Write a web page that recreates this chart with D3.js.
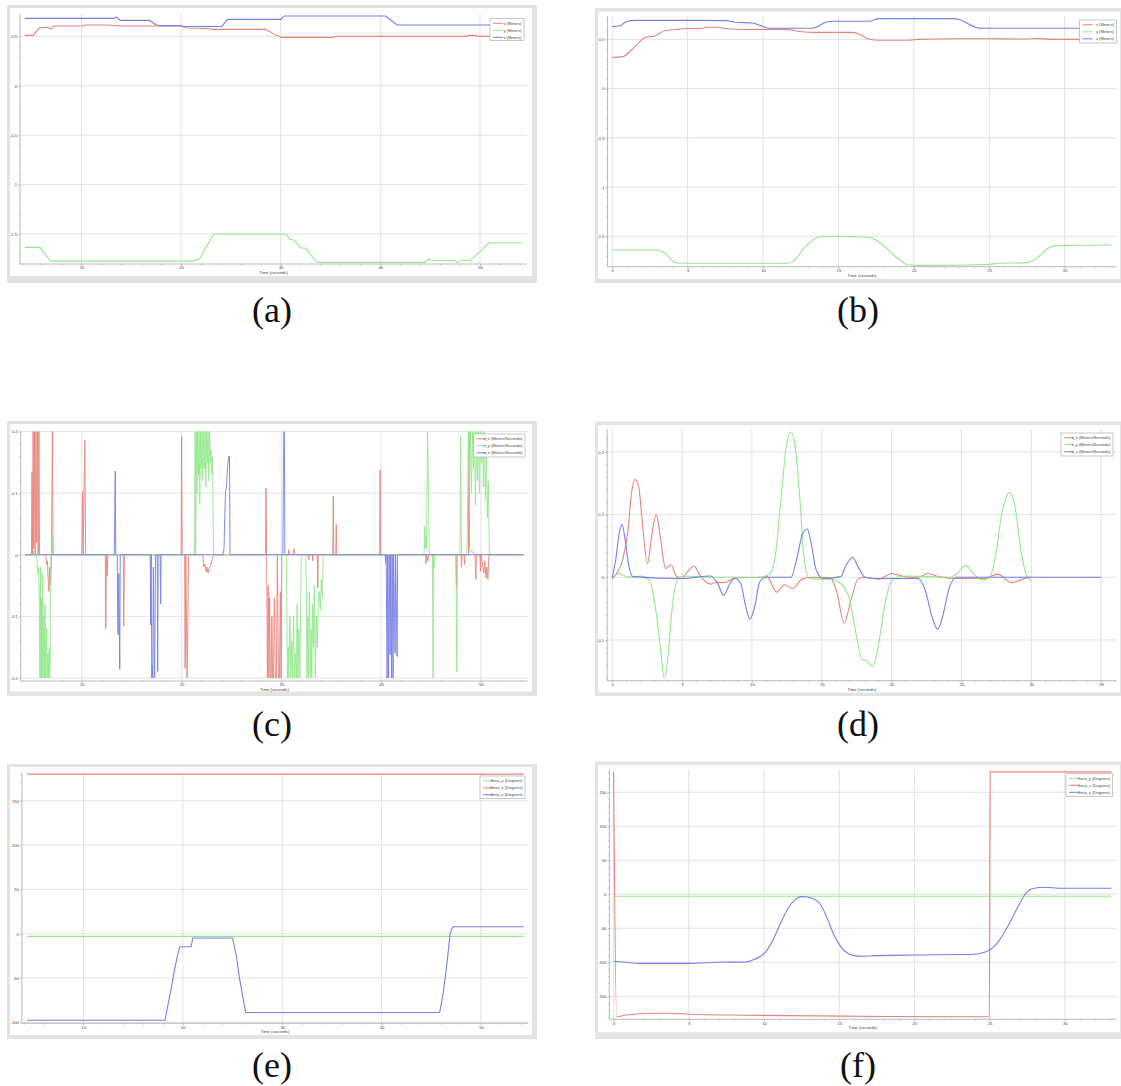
<!DOCTYPE html>
<html>
<head>
<meta charset="utf-8">
<script src="https://cdn.jsdelivr.net/npm/d3@7"></script>
<style>
  body { margin: 0; background: #fff; }
  svg { display: block; }
</style>
</head>
<body>
<svg id="fig" width="1121" height="1086"></svg>
<script>
// ---------------- (a) position, recorded run ----------------
const posA_x = [[4.3,0.51],[5.16,0.51],[5.8,0.59],[6.55,0.59],[6.97,0.575],[7.18,0.605],[10.2,0.605],[10.4,0.615],[12.5,0.615],[14.2,0.605],[19.95,0.605],[20.6,0.585],[22.7,0.58],[23.1,0.57],[28.5,0.57],[29.2,0.53],[30.0,0.49],[35.3,0.49],[35.6,0.5],[48.7,0.5],[48.8,0.51],[49.5,0.51],[49.9,0.5],[54.2,0.5]];
const posA_y = [[4.3,-1.635],[5.86,-1.635],[6.9,-1.774],[21.2,-1.774],[21.9,-1.747],[23.26,-1.5],[30.57,-1.5],[30.9,-1.554],[31.3,-1.56],[32.0,-1.64],[32.5,-1.643],[33.0,-1.71],[33.7,-1.787],[44.5,-1.787],[44.8,-1.753],[45.2,-1.767],[47.45,-1.767],[47.7,-1.79],[48.0,-1.767],[49.0,-1.767],[49.4,-1.733],[50.0,-1.68],[50.9,-1.588],[54.2,-1.588]];
const posA_z = [[4.3,0.682],[13.3,0.682],[13.5,0.696],[13.9,0.662],[16.8,0.662],[17.5,0.615],[17.9,0.608],[20.0,0.608],[20.3,0.6],[24.1,0.6],[24.65,0.672],[30.05,0.672],[30.3,0.706],[40.5,0.706],[41.7,0.615],[54.2,0.615]];

// ---------------- (b) position, planned trajectory ----------------
const posB_x = [[0,0.317],[0.7,0.324],[1.28,0.39],[2.0,0.5],[2.2,0.52],[2.8,0.534],[3.5,0.588],[4.2,0.6],[4.9,0.61],[5.8,0.61],[6.3,0.622],[7.0,0.622],[7.5,0.61],[8.86,0.6],[11.65,0.6],[12.1,0.588],[13.3,0.571],[15.85,0.571],[16.3,0.56],[17.0,0.503],[17.7,0.49],[19.6,0.49],[20.3,0.5],[22.8,0.506],[24.9,0.506],[27.3,0.503],[28.2,0.51],[29.1,0.5],[33.1,0.5]];
const posB_y = [[0,-1.639],[3.03,-1.639],[3.5,-1.673],[4.2,-1.767],[4.66,-1.774],[11.65,-1.774],[12.1,-1.74],[12.8,-1.605],[13.5,-1.52],[14.0,-1.5],[14.9,-1.5],[17.0,-1.51],[17.45,-1.535],[18.9,-1.72],[19.6,-1.79],[20.3,-1.797],[24.9,-1.787],[25.6,-1.774],[27.3,-1.77],[28.0,-1.74],[28.9,-1.622],[29.4,-1.595],[33.1,-1.588]];
const posB_z = [[0,0.629],[0.47,0.635],[0.93,0.679],[1.5,0.693],[4.2,0.693],[7.5,0.69],[8.2,0.673],[9.3,0.666],[9.8,0.642],[10.4,0.612],[13.3,0.612],[14.2,0.676],[14.6,0.683],[17.0,0.683],[17.7,0.71],[22.6,0.71],[23.1,0.696],[24.0,0.629],[24.4,0.612],[33.1,0.612]];

// ---------------- (c) velocity, recorded run ----------------
const velC_x = [[4.3,0],[4.95,0],[5.0,0.135],[5.05,0],[5.12,0.2],[5.18,0.01],[5.25,0.2],[5.32,0],[5.4,0.2],[5.47,0.02],[5.55,0.2],[5.62,0],[5.7,0.2],[5.76,0],[6.4,0],[6.48,-0.016],[6.55,-0.01],[6.62,-0.04],[6.7,-0.06],[6.78,-0.02],[6.86,-0.05],[6.95,0],[7.05,0.2],[7.12,0],[10.0,0],[10.07,0.103],[10.13,0],[10.3,0.186],[10.38,0],[12.35,0],[12.4,-0.12],[12.47,0],[12.55,-0.035],[12.6,0],[14.15,0],[14.2,-0.116],[14.27,0],[19.95,0],[20.0,0.193],[20.06,0],[20.3,0],[20.35,-0.184],[20.42,0],[20.55,-0.2],[20.62,-0.124],[20.7,0],[22.15,0],[22.2,-0.02],[22.35,-0.015],[22.45,-0.028],[22.55,-0.02],[22.65,-0.03],[22.75,-0.022],[22.9,-0.018],[23.05,-0.008],[23.2,0],[28.4,0],[28.46,0.108],[28.52,0],[28.6,-0.2],[28.68,-0.05],[28.75,-0.2],[28.82,-0.07],[28.9,-0.2],[28.98,-0.2],[29.05,-0.1],[29.12,-0.2],[29.2,-0.2],[29.3,-0.07],[29.4,-0.2],[29.5,-0.2],[29.6,0],[29.7,-0.2],[29.8,-0.2],[29.9,-0.06],[29.97,-0.2],[30.05,0],[30.7,0],[30.75,0.008],[30.8,0],[31.2,0],[31.25,0.01],[31.35,0.004],[31.4,0],[32.7,0],[32.75,-0.008],[32.8,0],[33.1,0],[33.15,-0.01],[33.2,0],[33.6,0],[33.65,-0.054],[33.7,0],[35.15,0],[35.2,0.095],[35.25,0],[35.45,0],[35.5,0.049],[35.55,0],[39.85,0],[39.9,0.138],[39.95,0],[44.45,0],[44.5,-0.014],[44.55,0],[44.7,-0.01],[44.75,0],[47.5,0],[47.55,-0.054],[47.6,0],[48.0,0],[48.05,-0.02],[48.1,0],[48.3,0],[48.35,-0.016],[48.4,0],[48.75,0],[48.8,0.2],[48.85,0.01],[49.4,0],[49.5,-0.04],[49.55,0],[49.9,0],[49.95,-0.027],[50.0,0],[50.3,-0.03],[50.4,-0.01],[50.5,-0.038],[50.6,-0.02],[50.7,-0.04],[50.8,0],[54.25,0]];
const velC_y = [[4.3,0],[5.1,0],[5.13,0.006],[5.2,0],[5.4,0],[5.5,-0.005],[5.55,-0.03],[5.65,-0.02],[5.72,-0.055],[5.8,-0.2],[5.85,-0.02],[5.9,-0.2],[5.95,-0.07],[6.0,-0.2],[6.05,-0.03],[6.1,-0.2],[6.18,-0.1],[6.25,-0.2],[6.3,-0.08],[6.38,-0.2],[6.45,-0.12],[6.52,-0.2],[6.6,-0.16],[6.65,-0.2],[6.72,-0.15],[6.78,-0.2],[6.85,-0.16],[6.9,0],[7.0,0],[7.05,0.03],[7.1,0],[21.3,0],[21.35,0.2],[21.4,0],[21.5,0.2],[21.55,0.1],[21.6,0.2],[21.7,0.13],[21.75,0.2],[21.82,0.084],[21.9,0.2],[21.97,0.14],[22.05,0.2],[22.12,0.12],[22.2,0.2],[22.28,0.14],[22.35,0.2],[22.42,0.11],[22.5,0.2],[22.58,0.15],[22.65,0.2],[22.72,0.12],[22.8,0.2],[22.88,0.15],[22.95,0.17],[23.0,0.13],[23.1,0.16],[23.2,0],[30.5,0],[30.55,-0.085],[30.6,-0.2],[30.68,-0.15],[30.75,-0.2],[30.85,-0.1],[30.95,-0.2],[31.05,-0.14],[31.12,-0.2],[31.22,-0.1],[31.3,-0.2],[31.4,-0.16],[31.5,-0.2],[31.58,-0.08],[31.65,-0.2],[31.75,-0.12],[31.85,-0.2],[31.95,-0.06],[32.0,0],[32.45,0],[32.5,-0.05],[32.57,-0.2],[32.65,-0.1],[32.72,-0.2],[32.8,-0.06],[32.9,-0.2],[32.98,-0.12],[33.05,-0.2],[33.12,-0.08],[33.22,-0.15],[33.3,-0.05],[33.4,-0.2],[33.5,-0.1],[33.6,-0.15],[33.7,-0.07],[33.8,-0.06],[33.9,-0.09],[34.0,-0.04],[34.1,-0.07],[34.2,0],[44.3,0],[44.35,0.046],[44.42,0.01],[44.5,0.032],[44.55,0.01],[44.65,0.2],[44.72,0.14],[44.8,0.02],[44.85,0],[45.15,0],[45.2,-0.2],[45.25,0],[45.3,-0.022],[45.35,0],[47.5,0],[47.58,-0.19],[47.65,0],[47.9,0],[47.97,0.193],[48.05,0],[48.6,0],[48.65,0.05],[48.75,0.2],[48.85,0.12],[48.95,0.2],[49.05,0.1],[49.15,0.2],[49.25,0.14],[49.35,0.2],[49.45,0.08],[49.55,0.2],[49.65,0.12],[49.75,0.2],[49.85,0.1],[49.95,0.2],[50.05,0.15],[50.15,0.2],[50.25,0.11],[50.35,0.2],[50.45,0.09],[50.55,0.17],[50.65,0.06],[50.75,0.12],[50.85,0],[54.25,0]];
const velC_z = [[4.3,0],[13.25,0],[13.3,0.07],[13.35,0.136],[13.4,0],[13.55,0],[13.6,-0.122],[13.65,-0.13],[13.7,-0.03],[13.8,-0.186],[13.85,0],[16.85,0],[16.9,-0.114],[16.95,0],[17.0,-0.2],[17.05,-0.18],[17.1,-0.2],[17.17,-0.02],[17.25,-0.178],[17.3,-0.2],[17.38,0],[17.55,0],[17.6,-0.19],[17.65,0],[17.85,0],[17.9,-0.08],[17.95,0],[24.15,0],[24.25,0.01],[24.32,0.06],[24.4,0.103],[24.5,0.11],[24.6,0.14],[24.72,0.16],[24.8,0.16],[24.85,0],[30.15,0],[30.2,0.12],[30.25,0.2],[30.3,0.2],[30.35,0],[40.4,0],[40.45,-0.013],[40.5,0],[40.6,-0.2],[40.65,0],[40.75,-0.2],[40.8,0],[40.9,-0.162],[40.95,0],[41.05,-0.2],[41.1,0],[41.2,-0.2],[41.25,0],[41.4,-0.16],[41.45,0],[41.6,-0.165],[41.65,0],[54.25,0]];

// ---------------- (d) velocity, planned trajectory ----------------
const velD_x = [[0,-0.003],[0.25,0.004],[0.75,0.028],[1.13,0.075],[1.38,0.134],[1.64,0.156],[1.9,0.144],[2.14,0.091],[2.52,0.022],[2.82,0.065],[3.15,0.1],[3.47,0.06],[3.82,0.014],[4.2,0.02],[4.58,0.002],[4.98,-0.002],[5.4,0.009],[5.84,0.018],[6.34,0.001],[7.05,-0.011],[7.42,-0.008],[8.05,-0.0085],[8.8,-0.001],[10.57,0],[11.07,0.001],[11.78,-0.024],[12.33,-0.012],[12.9,-0.018],[13.6,-0.003],[14.34,0],[15.6,-0.001],[16.1,-0.025],[16.6,-0.073],[17.1,-0.036],[17.6,-0.003],[18.1,0],[19.1,-0.003],[20.0,0.006],[20.9,0.001],[21.9,0],[22.6,0.006],[23.4,0.001],[24.66,-0.002],[26.7,-0.002],[27.6,0.005],[28.6,-0.0085],[29.7,-0.001],[30.0,0]];
const velD_y = [[0,0],[0.5,0.006],[1.0,0.001],[1.5,0],[2.0,0.002],[2.64,-0.004],[3.15,-0.057],[3.5,-0.122],[3.72,-0.161],[3.97,-0.132],[4.28,-0.052],[4.65,-0.004],[5.03,0.002],[6.04,0.001],[7.05,0],[10.57,0],[11.3,0.006],[11.7,0.038],[12.08,0.123],[12.46,0.208],[12.78,0.232],[13.1,0.208],[13.46,0.118],[13.7,0.038],[14.1,-0.002],[14.6,-0.003],[15.6,-0.003],[16.36,-0.01],[17.0,-0.036],[17.5,-0.095],[17.87,-0.131],[18.2,-0.133],[18.4,-0.138],[18.67,-0.142],[19.0,-0.116],[19.5,-0.047],[19.9,-0.01],[20.4,0],[21.1,0.002],[24.2,0],[24.7,0.006],[25.3,0.019],[25.9,0.005],[26.5,-0.005],[27.05,0.001],[27.4,0.028],[27.9,0.102],[28.43,0.135],[28.8,0.117],[29.3,0.038],[29.7,0.001],[30.07,-0.006]];
const velD_z = [[0,0],[0.25,0.028],[0.5,0.07],[0.7,0.084],[0.93,0.059],[1.2,0.017],[1.5,0.001],[5.03,-0.002],[7.05,0.002],[7.55,-0.01],[7.98,-0.029],[8.43,-0.01],[8.8,-0.002],[9.2,-0.01],[9.56,-0.047],[9.86,-0.067],[10.2,-0.047],[10.57,-0.007],[11.07,0],[12.8,0],[13.2,0.028],[13.64,0.07],[13.97,0.077],[14.2,0.059],[14.6,0.012],[15.1,-0.002],[16.36,0.001],[16.7,0.017],[17.2,0.032],[17.6,0.017],[18.1,0],[18.9,-0.002],[21.9,-0.002],[22.4,-0.02],[22.9,-0.063],[23.3,-0.083],[23.65,-0.063],[24.16,-0.015],[24.66,0],[35.0,0]];

// ---------------- (e) orientation, recorded run ----------------
const angE_y = [[4.33,-3],[54.3,-3]];
const angE_x = [[4.33,180],[54.3,180]];
const angE_z = [[4.33,-97.7],[18.2,-97.7],[18.74,-67],[19.1,-44.7],[19.44,-26],[19.7,-14.7],[20.84,-14.7],[21.0,-4.9],[25.0,-4.9],[25.4,-26],[25.7,-50.4],[26.33,-89],[45.84,-89],[46.2,-67],[46.54,-37.2],[46.9,0.4],[47.17,7.9],[54.3,7.9]];

// ---------------- (f) orientation, planned trajectory ----------------
const angF_y = [[0,-2.9],[33.1,-2.9]];
const angF_x = [[0,180],[0.2,-180],[0.84,-177.5],[1.3,-176.5],[2.24,-175],[3.64,-175],[5.05,-176.3],[8.8,-177.8],[13.5,-178.8],[18.1,-179.6],[24.98,-180],[25.05,180],[33.1,180]];
const angF_z = [[0,-98.5],[0.84,-100],[1.78,-101.5],[5.05,-101.5],[6.9,-100],[8.8,-99.5],[9.25,-96.6],[9.72,-91.7],[10.07,-85.8],[10.54,-69.6],[11.1,-42.6],[11.6,-20.6],[12.06,-8.3],[12.52,-3.4],[12.87,-3.9],[13.2,-5.9],[13.7,-13.2],[14.16,-32.8],[14.6,-57.4],[15.1,-77],[15.56,-86.8],[16.03,-90.2],[16.5,-91.2],[17.4,-90.2],[20.0,-89.2],[23.97,-88.2],[24.4,-86.8],[25.0,-81.9],[25.5,-72.1],[26.07,-52.5],[26.66,-28],[27.13,-8.3],[27.5,3.9],[27.95,8.8],[28.64,10.3],[29.8,8.8],[33.1,8.8]];

// ---------------- tick values and labels ----------------
const ticksRun = [10, 20, 30, 40, 50];
const ticksPlan = [0, 5, 10, 15, 20, 25, 30];
const ticksPlanLong = [0, 5, 10, 15, 20, 25, 30, 35];
const ticksPos = [0.5, 0, -0.5, -1, -1.5];
const ticksVelC = [0.2, 0.1, 0, -0.1, -0.2];
const ticksVelD = [0.2, 0.1, 0, -0.1];
const ticksAngE = [150, 100, 50, 0, -50, -100];
const ticksAngF = [150, 100, 50, 0, -50, -100, -150];
const labelsPos = ["x (Meters)", "y (Meters)", "z (Meters)"];
const labelsVel = ["v_x (Meters/Seconds)", "v_y (Meters/Seconds)", "v_z (Meters/Seconds)"];
const labelsAng = ["theta_y (Degrees)", "theta_x (Degrees)", "theta_z (Degrees)"];
const captions = ["(a)", "(b)", "(c)", "(d)", "(e)", "(f)"];

const RED = "#e8837b", GREEN = "#93e88d", BLUE = "#7480e6";
const svg = d3.select("#fig");

function range(a, b, step) {
  const out = [];
  for (let v = a; v <= b + 1e-9; v += step) out.push(+v.toFixed(6));
  return out;
}

function panel(p, idx) {
  const g = svg.append("g");
  // outer grey frame and white canvas
  g.append("rect").attr("x", p.frame[0]).attr("y", p.frame[1])
    .attr("width", p.frame[2] - p.frame[0]).attr("height", p.frame[3] - p.frame[1])
    .attr("fill", "#e3e3e3");
  g.append("rect").attr("x", p.frame[0] + p.inset[0]).attr("y", p.frame[1] + p.inset[1])
    .attr("width", p.frame[2] - p.frame[0] - p.inset[0] - p.inset[2])
    .attr("height", p.frame[3] - p.frame[1] - p.inset[1] - p.inset[3])
    .attr("fill", "#fff");

  const [L, T, R, B] = p.plot;
  const x = d3.scaleLinear().domain(p.xDom).range([L, R]);
  const y = d3.scaleLinear().domain(p.yDom).range([B, T]);

  // grid
  g.append("g").selectAll("line").data(p.xTicks).join("line")
    .attr("x1", d => x(d)).attr("x2", d => x(d)).attr("y1", T).attr("y2", B)
    .attr("stroke", "#e2e2e2").attr("stroke-width", 1);
  g.append("g").selectAll("line").data(p.yTicks).join("line")
    .attr("x1", L).attr("x2", R).attr("y1", d => y(d)).attr("y2", d => y(d))
    .attr("stroke", "#e2e2e2").attr("stroke-width", 1);

  // axes
  const fmt = d => String(d);
  const ax = g.append("g").attr("transform", `translate(0,${B})`)
    .call(d3.axisBottom(x).tickValues(p.xTicks).tickSize(2).tickPadding(0.5).tickFormat(fmt));
  const axm = g.append("g").attr("transform", `translate(0,${B})`)
    .call(d3.axisBottom(x).tickValues(p.xMinor).tickSize(1.5).tickFormat(""));
  const ay = g.append("g").attr("transform", `translate(${L},0)`)
    .call(d3.axisLeft(y).tickValues(p.yTicks).tickSize(2).tickPadding(1).tickFormat(fmt));
  const aym = g.append("g").attr("transform", `translate(${L},0)`)
    .call(d3.axisLeft(y).tickValues(p.yMinor).tickSize(1.5).tickFormat(""));
  [ax, axm, ay, aym].forEach(a => {
    a.select(".domain").attr("stroke", "#a8a8a8").attr("stroke-width", 0.8);
    a.selectAll(".tick line").attr("stroke", "#b0b0b0").attr("stroke-width", 0.6);
    a.selectAll("text").attr("font-family", "Liberation Sans, Arial, sans-serif")
      .attr("font-size", 4.2).attr("fill", "#444");
  });
  ax.select(".domain").attr("d", `M${L},0H${R}`);
  axm.select(".domain").remove();
  ay.select(".domain").attr("d", `M0,${T}V${B}`);
  aym.select(".domain").remove();

  g.append("text").attr("x", (L + R) / 2).attr("y", B + 10)
    .attr("text-anchor", "middle").attr("font-family", "Liberation Sans, Arial, sans-serif")
    .attr("font-size", 4.2).attr("fill", "#444").text("Time (seconds)");

  // series
  const clipId = "clip" + idx;
  g.append("clipPath").attr("id", clipId).append("rect")
    .attr("x", L).attr("y", T - 0.5).attr("width", R - L).attr("height", B - T + 1);
  const line = d3.line().x(d => x(d[0])).y(d => y(d[1])).curve(p.curve);
  const lines = g.append("g").attr("clip-path", `url(#${clipId})`);
  p.series.forEach(s => {
    lines.append("path").datum(s.data).attr("d", line)
      .attr("fill", "none").attr("stroke", s.color)
      .attr("stroke-width", p.lineW || 1.1).attr("stroke-opacity", p.lineOp || 1)
      .attr("stroke-linejoin", "round");
  });

  // legend
  const [lx, ly, lw, lh] = p.legend;
  const lg = g.append("g");
  lg.append("rect").attr("x", lx).attr("y", ly).attr("width", lw).attr("height", lh)
    .attr("fill", "#fff").attr("stroke", "#b8b8b8").attr("stroke-width", 0.8);
  p.legendItems.forEach((it, i) => {
    const cy = ly + 4.8 + i * 7;
    lg.append("line").attr("x1", lx + 3).attr("x2", lx + 13).attr("y1", cy).attr("y2", cy)
      .attr("stroke", it.color).attr("stroke-width", 1);
    lg.append("text").attr("x", lx + lw - 2.5).attr("y", cy + 1.4).attr("text-anchor", "end")
      .attr("font-family", "Liberation Sans, Arial, sans-serif").attr("font-size", 4)
      .attr("fill", "#444").text(it.label);
  });

  // caption
  svg.append("text").attr("x", p.cap[0]).attr("y", p.cap[1]).attr("text-anchor", "middle")
    .attr("font-family", "Liberation Serif, DejaVu Serif, serif").attr("font-size", 36)
    .attr("fill", "#111").text(captions[idx]);
}

const panels = [
  { frame: [7, 5, 537, 283], inset: [3, 3, 5, 7], plot: [20, 14, 527, 264],
    xDom: [3.83, 54.72], yDom: [-1.803, 0.726], xTicks: ticksRun, xMinor: range(4, 54, 2),
    yTicks: ticksPos, yMinor: range(-1.8, 0.7, 0.1), curve: d3.curveLinear,
    series: [{ data: posA_x, color: RED }, { data: posA_y, color: GREEN }, { data: posA_z, color: BLUE }],
    legend: [490, 18.5, 34, 22], legendItems: [{ label: labelsPos[0], color: RED }, { label: labelsPos[1], color: GREEN }, { label: labelsPos[2], color: BLUE }],
    cap: [272, 322] },
  { frame: [595, 8, 1125, 283], inset: [3, 3.5, 5, 4], plot: [607.5, 16, 1116.4, 266.7],
    xDom: [-0.31, 33.43], yDom: [-1.809, 0.737], xTicks: ticksPlan, xMinor: range(0, 33, 1),
    yTicks: ticksPos, yMinor: range(-1.8, 0.7, 0.1), curve: d3.curveMonotoneX,
    series: [{ data: posB_x, color: RED }, { data: posB_y, color: GREEN }, { data: posB_z, color: BLUE }],
    legend: [1079.5, 20, 37, 23], legendItems: [{ label: labelsPos[0], color: RED }, { label: labelsPos[1], color: GREEN }, { label: labelsPos[2], color: BLUE }],
    cap: [858, 322] },
  { frame: [7, 421, 537, 696], inset: [3, 3, 5, 4.5], plot: [20.7, 431, 528.3, 681],
    xDom: [3.87, 54.75], yDom: [-0.205, 0.201], xTicks: ticksRun, xMinor: range(4, 54, 2),
    yTicks: ticksVelC, yMinor: range(-0.2, 0.2, 0.02), curve: d3.curveLinear, lineW: 1, lineOp: 0.9,
    series: [{ data: velC_x, color: RED }, { data: velC_y, color: GREEN }, { data: velC_z, color: BLUE }],
    legend: [473.5, 434, 51.5, 23], legendItems: [{ label: labelsVel[0], color: RED }, { label: labelsVel[1], color: GREEN }, { label: labelsVel[2], color: BLUE }],
    cap: [272, 736] },
  { frame: [595, 421.5, 1125, 696], inset: [3, 3.5, 5, 3.5], plot: [607.2, 429.3, 1116.4, 680.7],
    xDom: [-0.36, 36.1], yDom: [-0.165, 0.236], xTicks: ticksPlanLong, xMinor: range(0, 36, 1),
    yTicks: ticksVelD, yMinor: range(-0.16, 0.22, 0.02), curve: d3.curveMonotoneX,
    series: [{ data: velD_x, color: RED }, { data: velD_y, color: GREEN }, { data: velD_z, color: BLUE }],
    legend: [1061, 433, 52, 23], legendItems: [{ label: labelsVel[0], color: RED }, { label: labelsVel[1], color: GREEN }, { label: labelsVel[2], color: BLUE }],
    cap: [858, 736] },
  { frame: [7, 764, 537, 1039], inset: [3, 3, 5, 4], plot: [21.9, 772.7, 528.3, 1023.3],
    xDom: [3.81, 54.76], yDom: [-101.1, 181.6], xTicks: ticksRun, xMinor: range(4, 54, 2),
    yTicks: ticksAngE, yMinor: range(-100, 180, 10), curve: d3.curveLinear,
    series: [{ data: angE_y, color: GREEN }, { data: angE_x, color: RED }, { data: angE_z, color: BLUE }],
    legend: [480, 776, 45, 22.5], legendItems: [{ label: labelsAng[0], color: GREEN }, { label: labelsAng[1], color: RED }, { label: labelsAng[2], color: BLUE }],
    cap: [272, 1077] },
  { frame: [595, 761.5, 1125, 1039], inset: [3, 3.5, 5, 7], plot: [609.4, 769.3, 1116.4, 1019.3],
    xDom: [-0.28, 33.43], yDom: [-183.8, 183.8], xTicks: ticksPlan, xMinor: range(0, 33, 1),
    yTicks: ticksAngF, yMinor: range(-180, 180, 10), curve: d3.curveMonotoneX,
    series: [{ data: angF_y, color: GREEN }, { data: angF_x, color: RED }, { data: angF_z, color: BLUE }],
    legend: [1066, 773.5, 46.5, 23], legendItems: [{ label: labelsAng[0], color: GREEN }, { label: labelsAng[1], color: RED }, { label: labelsAng[2], color: BLUE }],
    cap: [858, 1077] }
];

panels.forEach((p, i) => panel(p, i));
</script>
</body>
</html>
